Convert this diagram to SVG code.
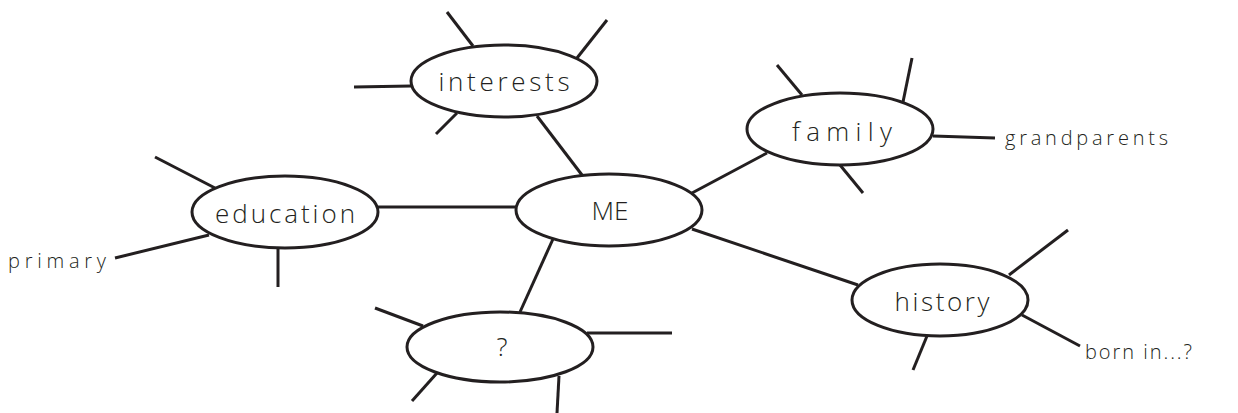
<svg xmlns="http://www.w3.org/2000/svg" width="1238" height="413" viewBox="0 0 1238 413">
<style>
.bg{fill:#ffffff}
.node ellipse{fill:#ffffff;stroke:#231f20;stroke-width:3}
#connectors line{stroke:#231f20;stroke-width:3;stroke-linecap:butt}
text{font-family:"Open Sans","DejaVu Sans",sans-serif;font-weight:300;fill:#231f20}
.lbl{font-size:26px;text-anchor:middle}
.leaf{font-size:20px}
</style>
<rect class="bg" x="0" y="0" width="1238" height="413"/>
<g id="connectors">
<line x1="377" y1="207" x2="516" y2="207"/>
<line x1="537" y1="116" x2="582" y2="175"/>
<line x1="692" y1="193" x2="767" y2="153"/>
<line x1="692" y1="229" x2="858" y2="285"/>
<line x1="553" y1="239" x2="520" y2="312"/>
<line x1="447" y1="12" x2="473" y2="46"/>
<line x1="607" y1="20" x2="577" y2="58"/>
<line x1="354" y1="87" x2="411" y2="86"/>
<line x1="436" y1="134" x2="457" y2="113"/>
<line x1="777" y1="65" x2="802" y2="95"/>
<line x1="912" y1="58" x2="903" y2="102"/>
<line x1="933" y1="136" x2="995" y2="138"/>
<line x1="840" y1="165" x2="863" y2="193"/>
<line x1="155" y1="157" x2="215" y2="188"/>
<line x1="115" y1="258" x2="209" y2="235"/>
<line x1="278" y1="248" x2="278" y2="287"/>
<line x1="375" y1="308" x2="423" y2="326"/>
<line x1="587" y1="333" x2="672" y2="333"/>
<line x1="412" y1="401" x2="437" y2="373"/>
<line x1="559" y1="376" x2="557" y2="413"/>
<line x1="1009" y1="275" x2="1068" y2="230"/>
<line x1="1022" y1="315" x2="1080" y2="346"/>
<line x1="927" y1="336" x2="913" y2="370"/>
</g>
<g id="node-me" class="node">
<ellipse cx="609" cy="210" rx="93" ry="36"/>
<text class="lbl" x="610" y="220" textLength="37" lengthAdjust="spacingAndGlyphs">ME</text>
</g>
<g id="node-interests" class="node">
<ellipse cx="504" cy="81" rx="93" ry="36"/>
<text class="lbl" x="504" y="91" textLength="131" lengthAdjust="spacing">interests</text>
</g>
<g id="node-family" class="node">
<ellipse cx="840" cy="129" rx="93" ry="36"/>
<text class="lbl" x="842" y="141" textLength="100" lengthAdjust="spacing">family</text>
</g>
<g id="node-education" class="node">
<ellipse cx="285" cy="212" rx="93" ry="36"/>
<text class="lbl" x="285" y="223" textLength="140" lengthAdjust="spacing">education</text>
</g>
<g id="node-question" class="node">
<ellipse cx="500" cy="347" rx="93" ry="35"/>
<text class="lbl" x="502" y="356">?</text>
</g>
<g id="node-history" class="node">
<ellipse cx="940" cy="300" rx="88" ry="36"/>
<text class="lbl" x="942" y="311" textLength="95" lengthAdjust="spacing">history</text>
</g>
<g id="leaf-grandparents">
<text class="leaf" x="1005" y="145" textLength="163" lengthAdjust="spacing">grandparents</text>
</g>
<g id="leaf-primary">
<text class="leaf" x="8" y="268" textLength="98" lengthAdjust="spacing">primary</text>
</g>
<g id="leaf-born">
<text class="leaf" x="1085" y="359" textLength="107" lengthAdjust="spacing">born in...?</text>
</g>
</svg>
